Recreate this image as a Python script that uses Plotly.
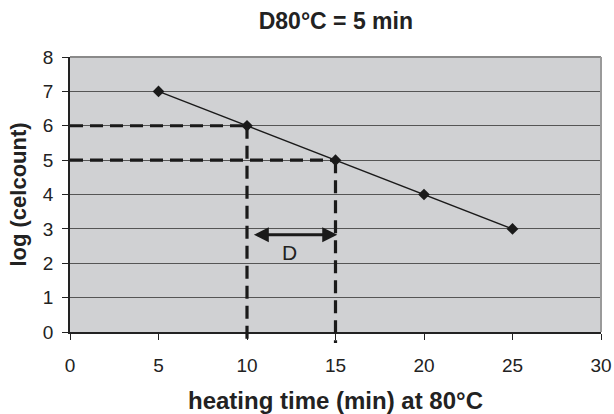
import plotly.graph_objects as go

# heating time (min) and log of the cell count
time_min = [5, 10, 15, 20, 25]
log_count = [7, 6, 5, 4, 3]

d_times = [10, 15]
d_logs = [6, 5]

x_max = 30
y_max = 8
x_ticks = [0, 5, 10, 15, 20, 25, 30]
y_ticks = [0, 1, 2, 3, 4, 5, 6, 7, 8]

arrow_y = 2.83
arrow_x = [10.3, 15.1]
d_label = "D"
d_label_pos = (12.4, 2.3)

font = "Liberation Sans, Arial, sans-serif"
dash_style = dict(color="#1a1a1a", width=3.2, dash="13px,7px")

fig = go.Figure()

fig.add_trace(go.Scatter(
    x=time_min, y=log_count, mode="lines+markers",
    line=dict(color="#1a1a1a", width=1.4),
    marker=dict(symbol="diamond", size=9, color="#1a1a1a"),
    showlegend=False, cliponaxis=False,
))

shapes = []
# horizontal guides from the y axis to the curve
for t, v in zip(d_times, d_logs):
    shapes.append(dict(type="line", xref="x", yref="y", x0=0, x1=t, y0=v, y1=v,
                       line=dash_style, layer="above"))
# vertical guides from the curve down past the x axis
for t, v in zip(d_times, d_logs):
    shapes.append(dict(type="line", xref="x", yref="y domain", x0=t, x1=t,
                       y0=v / y_max, y1=-0.04, line=dash_style, layer="above"))
# plot frame: grey top and right edges
shapes.append(dict(type="line", xref="paper", yref="paper", x0=0, x1=1, y0=1, y1=1,
                   line=dict(color="#8a8a8a", width=2)))
shapes.append(dict(type="line", xref="paper", yref="paper", x0=1, x1=1, y0=0, y1=1,
                   line=dict(color="#9a9a9a", width=2)))

tick_font = dict(size=19, color="#222")

fig.update_layout(
    width=614, height=414,
    margin=dict(l=70, r=13, t=57, b=82),
    paper_bgcolor="white",
    plot_bgcolor="#d0d1d3",
    font=dict(family=font, size=19, color="#222"),
    title=dict(text="<b>D80°C = 5 min</b>", x=0.547, xanchor="center",
               y=0.95, yanchor="middle", font=dict(size=23, color="#222")),
    shapes=shapes,
    xaxis=dict(range=[0, x_max], tickvals=x_ticks, ticks="outside", ticklen=6,
               tickcolor="#222", showgrid=False, zeroline=False,
               showline=True, linecolor="#222", linewidth=1.5,
               tickfont=tick_font, ticklabelstandoff=9, automargin=False,
               title=dict(text="<b>heating time (min) at 80°C</b>",
                          font=dict(size=24), standoff=20)),
    yaxis=dict(range=[0, y_max], tickvals=y_ticks, ticks="outside", ticklen=6,
               tickcolor="#222", showgrid=True, gridcolor="#555", gridwidth=1,
               zeroline=False, showline=True, linecolor="#222", linewidth=1.5,
               tickfont=tick_font, ticklabelstandoff=5, automargin=False,
               title=dict(text="<b>log (celcount)</b>", font=dict(size=22),
                          standoff=10)),
)

# double-headed arrow marking D between the two readings
fig.add_annotation(
    x=arrow_x[1], y=arrow_y, ax=arrow_x[0], ay=arrow_y,
    xref="x", yref="y", axref="x", ayref="y",
    text="", showarrow=True, arrowhead=2, startarrowhead=2,
    arrowside="end+start", arrowsize=1, startarrowsize=1,
    arrowwidth=3, arrowcolor="#1a1a1a", standoff=0, startstandoff=0,
)
fig.add_annotation(
    x=d_label_pos[0], y=d_label_pos[1], xref="x", yref="y",
    text=d_label, showarrow=False, font=dict(size=21, color="#222"),
)

fig.write_html("out.html")
